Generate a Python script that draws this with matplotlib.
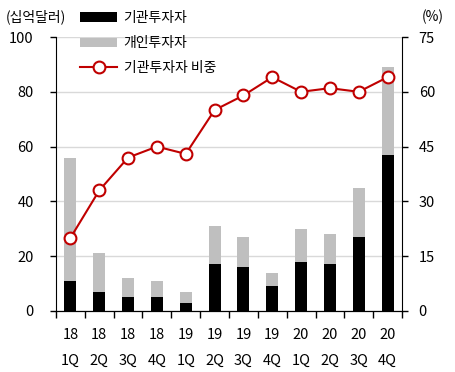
import matplotlib

matplotlib.use("Agg")
import matplotlib.pyplot as plt
import numpy as np
from matplotlib.lines import Line2D
from matplotlib.patches import Patch

plt.rcParams["font.family"] = ["Noto Sans CJK KR", "DejaVu Sans"]

quarters = ["18\n1Q", "18\n2Q", "18\n3Q", "18\n4Q", "19\n1Q", "19\n2Q",
            "19\n3Q", "19\n4Q", "20\n1Q", "20\n2Q", "20\n3Q", "20\n4Q"]
institutional = [11, 7, 5, 5, 3, 17, 16, 9, 18, 17, 27, 57]
total = [56, 21, 12, 11, 7, 31, 27, 14, 30, 28, 45, 89]
individual = [t - i for t, i in zip(total, institutional)]
inst_share = [20, 33, 42, 45, 43, 55, 59, 64, 60, 61, 60, 64]

RED = "#C00000"
GREY = "#BFBFBF"

fig = plt.figure(figsize=(4.56, 3.72), dpi=100)
ax = fig.add_axes([0.1228, 0.164, 0.7588, 0.7365])
x = np.arange(len(quarters))

ax.bar(x, institutional, width=0.42, color="black", zorder=2)
ax.bar(x, individual, bottom=institutional, width=0.42, color=GREY, zorder=2)

ax.set_xlim(-0.5, len(quarters) - 0.5)
ax.set_ylim(0, 100)
ax.set_yticks([0, 20, 40, 60, 80, 100])
ax.grid(axis="y", color="#d9d9d9", linewidth=1.0, zorder=0)
ax.set_axisbelow(True)
ax.set_xticks(np.arange(-0.5, len(quarters) + 0.5, 1))
ax.set_xticklabels([])
ax.set_xticks(x, minor=True)
ax.set_xticklabels(quarters, minor=True, fontsize=10.5, linespacing=2.1)
ax.tick_params(axis="x", which="minor", length=0, pad=12)
ax.tick_params(axis="x", which="major", length=5, width=1, direction="out")
ax.tick_params(axis="y", length=4, width=1, labelsize=10.5, pad=12)
ax.spines["top"].set_visible(False)
ax.spines["right"].set_visible(False)

ax2 = ax.twinx()
ax2.plot(x, inst_share, color=RED, linewidth=1.5, marker="o", markersize=8.5,
         markerfacecolor="white", markeredgecolor=RED, markeredgewidth=1.5, zorder=3)
ax2.set_ylim(0, 75)
ax2.set_yticks([0, 15, 30, 45, 60, 75])
ax2.tick_params(axis="y", length=4, width=1, labelsize=10.5, pad=8)
ax2.spines["top"].set_visible(False)
ax2.spines["left"].set_visible(False)

fig.text(0.012, 0.955, "(십억달러)", fontsize=10, va="center", ha="left")
fig.text(0.95, 0.955, "(%)", fontsize=10, va="center", ha="center")

handles = [
    Patch(facecolor="black", edgecolor="none"),
    Patch(facecolor=GREY, edgecolor="none"),
    Line2D([0], [0], color=RED, linewidth=1.5, marker="o", markersize=8.5,
           markerfacecolor="white", markeredgecolor=RED, markeredgewidth=1.5),
]
labels = ["기관투자자", "개인투자자", "기관투자자 비중"]
fig.legend(handles, labels, loc="upper left", bbox_to_anchor=(0.163, 0.985),
           frameon=False, fontsize=10, handlelength=2.7, handleheight=0.7,
           handletextpad=0.45, labelspacing=0.8, borderaxespad=0.0)

fig.savefig("out.png", dpi=100)
